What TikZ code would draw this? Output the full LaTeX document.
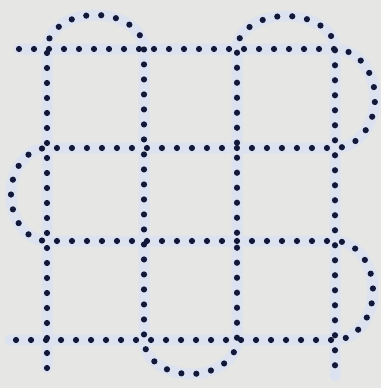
\documentclass[tikz,border=0pt]{standalone}
\definecolor{bgc}{HTML}{E6E6E4}
\definecolor{halo}{HTML}{DCE2F0}
\definecolor{dotc}{HTML}{121838}
\tikzset{
  glow/.style={draw=halo, line width=11pt, line cap=round, line join=round},
  dots/.style={draw=dotc, line width=6.2pt, line cap=round, dash pattern=on 0pt off 15pt}
}
\begin{document}
\begin{tikzpicture}[x=1pt,y=-1pt]
\fill[bgc] (0,0) rectangle (381,388);
\useasboundingbox (0,0) rectangle (381,388);
% strand 1 (horizontals)
\def\strandA{(19,49) -- (335,49) arc[start angle=270, end angle=450, x radius=40, y radius=49.5]
  -- (47,148) arc[start angle=270, end angle=90, x radius=36, y radius=46.5]
  -- (335,241) arc[start angle=270, end angle=450, x radius=38, y radius=49.5]
  -- (10,340)}
% strand 2 (verticals)
\def\strandB{(47,368) -- (47,49) arc[start angle=180, end angle=360, x radius=48.5, y radius=34]
  -- (144,340) arc[start angle=180, end angle=0, x radius=46.5, y radius=34]
  -- (237,49) arc[start angle=180, end angle=360, x radius=49, y radius=33]
  -- (335,376)}
\path[glow] \strandA;
\path[glow] \strandB;
\path[dots] \strandA;
\path[dots] \strandB;
\end{tikzpicture}
\end{document}
